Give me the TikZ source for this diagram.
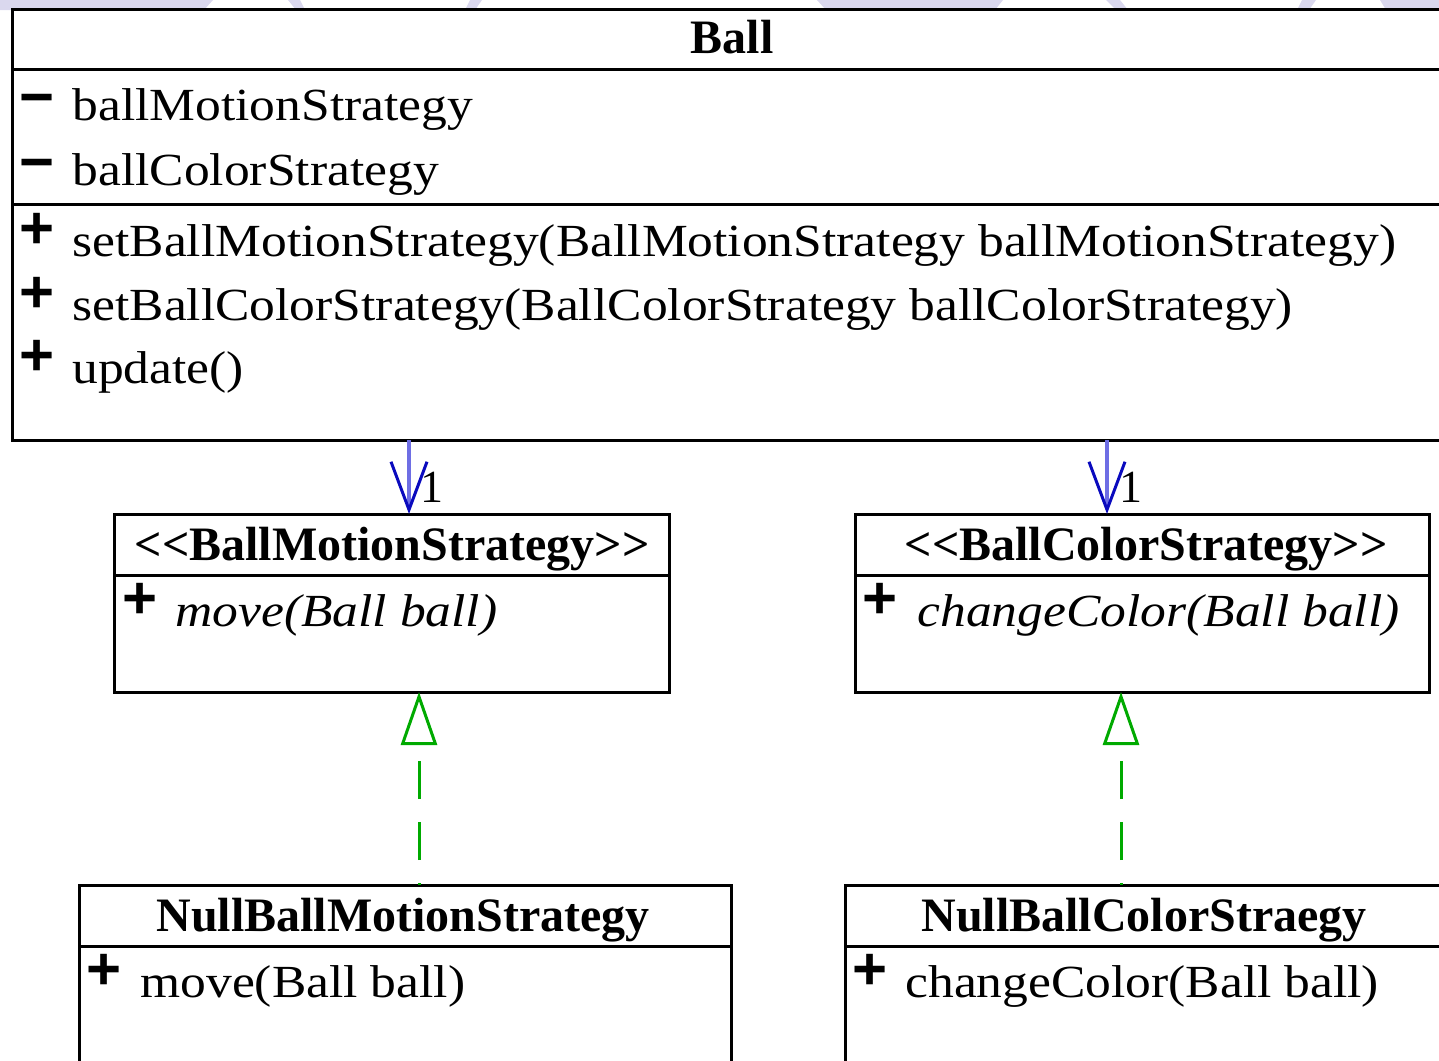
\documentclass[tikz,border=0pt]{standalone}
\usepackage{fontspec}
\setmainfont{Liberation Serif}
\newfontfamily\signfont{Liberation Sans}
\usetikzlibrary{arrows.meta,fit}
\definecolor{lav}{RGB}{218,216,238}
\definecolor{assocblue}{RGB}{110,110,228}
\definecolor{tipblue}{RGB}{10,10,190}
\definecolor{realgreen}{RGB}{0,170,0}
\newcommand\rx[1]{\scalebox{1.12}[1]{#1}}
\begin{document}
\begin{tikzpicture}[x=0.5pt,y=-0.5pt,
  classbox/.style={draw=black, line width=1.5pt, inner sep=0pt, outer sep=0pt},
  seprule/.style={draw=black, line width=1.5pt},
  classtitle/.style={anchor=base, inner sep=0pt, font=\fontsize{24}{28}\selectfont\bfseries},
  membertxt/.style={anchor=base west, inner sep=0pt, font=\fontsize{23}{27}\selectfont},
  vissign/.style={anchor=center, inner sep=0pt, font=\fontsize{30}{34}\selectfont\signfont\bfseries},
  assoc/.style={draw=assocblue, line width=2pt, -{Straight Barb[length=24pt,width=18pt,color=tipblue,line width=1.5pt]}},
  realiz/.style={draw=realgreen, line width=1.5pt, dash pattern=on 19pt off 11.5pt, dash phase=18pt, -{Triangle[open,length=26.5pt,width=18pt]}}
]
\useasboundingbox (0,0) rectangle (1439,1060);
\clip (0,0) rectangle (1439,1060);
% faint background shapes at the top edge
\fill[lav] (0,0) -- (213,0) -- (204,10) -- (0,10) -- cycle;
\fill[lav] (288,0) -- (300,0) -- (305,10) -- (296,10) -- cycle;
\fill[lav] (470,0) -- (482,0) -- (475,10) -- (465,10) -- cycle;
\fill[lav] (817,0) -- (1003,0) -- (995,10) -- (826,10) -- cycle;
\fill[lav] (1106,0) -- (1120,0) -- (1128,10) -- (1116,10) -- cycle;
\fill[lav] (1302,0) -- (1316,0) -- (1309,10) -- (1297,10) -- cycle;
\fill[lav] (1380,0) -- (1439,0) -- (1439,10) -- (1386,10) -- cycle;

% class boxes
\node[classbox, fill=white, fit={(12,9) (1452,440)}] (ball) {};
\node[classbox, fill=white, fit={(114,514) (669,692)}] (motion) {};
\node[classbox, fill=white, fit={(855,514) (1429,692)}] (color) {};
\node[classbox, fill=white, fit={(79,885) (731,1080)}] (nullmotion) {};
\node[classbox, fill=white, fit={(845,885) (1447,1080)}] (nullcolor) {};

% compartment separators
\draw[seprule] (ball.west |- 0,69) -- (ball.east |- 0,69);
\draw[seprule] (ball.west |- 0,204) -- (ball.east |- 0,204);
\draw[seprule] (motion.west |- 0,575) -- (motion.east |- 0,575);
\draw[seprule] (color.west |- 0,575) -- (color.east |- 0,575);
\draw[seprule] (nullmotion.west |- 0,946) -- (nullmotion.east |- 0,946);
\draw[seprule] (nullcolor.west |- 0,946) -- (nullcolor.east |- 0,946);

% Ball
\node[classtitle] (tball) at (732,53) {Ball};
\node[vissign] (s1) at (37,106) {−};
\node[membertxt] (m1) at (72,120) {\rx{ballMotionStrategy}};
\node[vissign] (s2) at (37,171) {−};
\node[membertxt] (m2) at (72,185) {\rx{ballColorStrategy}};
\node[vissign] (s3) at (37,231) {+};
\node[membertxt] (m3) at (72,256) {\rx{setBallMotionStrategy(BallMotionStrategy ballMotionStrategy)}};
\node[vissign] (s4) at (37,295) {+};
\node[membertxt] (m4) at (72,320) {\rx{setBallColorStrategy(BallColorStrategy ballColorStrategy)}};
\node[vissign] (s5) at (37,358) {+};
\node[membertxt] (m5) at (72,383) {\rx{update()}};

% BallMotionStrategy
\node[classtitle] (tmotion) at (392,560) {<{}<BallMotionStrategy>{}>};
\node[vissign] (s6) at (140,601) {+};
\node[membertxt] (m6) at (175,626) {\rx{\itshape move(Ball ball)}};

% BallColorStrategy
\node[classtitle] (tcolor) at (1146,560) {<{}<BallColorStrategy>{}>};
\node[vissign] (s7) at (880,601) {+};
\node[membertxt] (m7) at (917,626) {\rx{\itshape changeColor(Ball ball)}};

% NullBallMotionStrategy
\node[classtitle] (tnullmotion) at (403,931) {NullBallMotionStrategy};
\node[vissign] (s8) at (104,972) {+};
\node[membertxt] (m8) at (140,997) {\rx{move(Ball ball)}};

% NullBallColorStraegy
\node[classtitle] (tnullcolor) at (1144,931) {NullBallColorStraegy};
\node[vissign] (s9) at (870,972) {+};
\node[membertxt] (m9) at (905,997) {\rx{changeColor(Ball ball)}};

% connectors
\path (409,0) coordinate (a1x) (1107,0) coordinate (a2x)
      (419,0) coordinate (r1x) (1121,0) coordinate (r2x);
\draw[assoc] (ball.south -| a1x) -- (motion.north -| a1x);
\draw[assoc] (ball.south -| a2x) -- (color.north -| a2x);
\node[membertxt] (mult1) at (420,502) {1};
\node[membertxt] (mult2) at (1119,502) {1};
\draw[realiz] (nullmotion.north -| r1x) -- (motion.south -| r1x);
\draw[realiz] (nullcolor.north -| r2x) -- (color.south -| r2x);
\end{tikzpicture}
\end{document}
